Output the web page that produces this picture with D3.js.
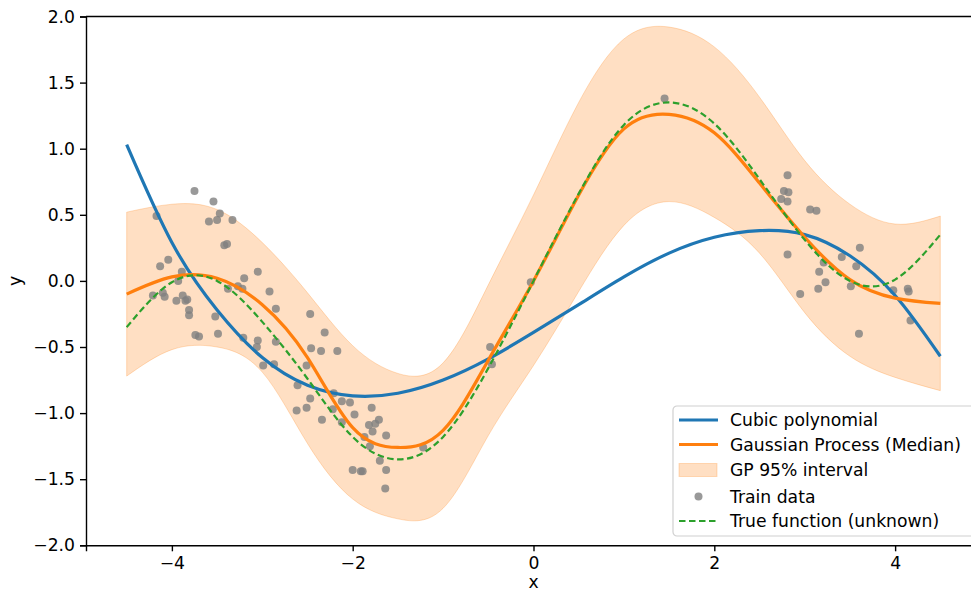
<!DOCTYPE html>
<html>
<head>
<meta charset="utf-8">
<script src="https://cdn.jsdelivr.net/npm/d3@7"></script>
<style>
  body { margin: 0; background: #fff; }
  svg { display: block; font-family: "DejaVu Sans", sans-serif; }
</style>
</head>
<body>
<svg id="chart" width="971" height="594"></svg>
<script>
var gridX = [-4.5, -4, -3.5, -3, -2.5, -2, -1.5, -1, -0.5, 0, 0.5, 1, 1.5, 2, 2.5, 3, 3.5, 4, 4.5];

var cubicY  = [1.03, 0.29, -0.22, -0.58, -0.79, -0.87, -0.85, -0.75, -0.59, -0.39, -0.18, 0.03, 0.21, 0.33, 0.38, 0.35, 0.19, -0.11, -0.57];
var medianY = [-0.10, 0.03, 0.02, -0.18, -0.58, -1.11, -1.26, -1.13, -0.60, 0.0, 0.65, 1.15, 1.26, 1.12, 0.74, 0.33, 0.01, -0.13, -0.17];
var upperY  = [0.52, 0.58, 0.54, 0.29, -0.09, -0.49, -0.70, -0.62, -0.03, 0.65, 1.35, 1.83, 1.92, 1.77, 1.39, 0.91, 0.58, 0.43, 0.49];
var lowerY  = [-0.72, -0.52, -0.50, -0.69, -1.23, -1.65, -1.80, -1.72, -1.17, -0.64, -0.08, 0.42, 0.60, 0.48, 0.21, -0.24, -0.57, -0.73, -0.83];
var trueY   = [-0.35, -0.01, 0.0, -0.31, -0.74, -1.18, -1.35, -1.18, -0.66, 0.0, 0.66, 1.18, 1.35, 1.19, 0.77, 0.31, 0.0, 0.01, 0.35];

// training points
var trainX = [-3.75, -3.54, -3.47, -3.59, -3.50, -3.33, -4.17, -3.42, -3.39, -4.13, -4.04, -3.89, -3.93, -4.21, -4.10, -4.08,
  -3.95, -3.88, -3.85, -3.83, -3.81, -3.81, -3.38, -3.27, -3.22, -3.20, -3.05, -2.92, -2.85, -3.52, -3.74, -3.70, -3.49,
  -3.21, -3.05, -3.06, -2.85, -2.47, -2.31, -2.46, -2.35, -2.17, -2.99, -2.87, -2.51, -2.61, -2.47, -2.21, -2.12, -2.03,
  -2.62, -2.51, -2.22, -1.98, -1.79, -2.34, -2.12, -1.82, -1.75, -1.71, -1.78, -1.87, -1.63, -1.81, -1.70, -1.22, -2.00,
  -1.91, -1.89, -1.63, -1.64, -0.03, -0.48, -0.46, 1.45, 2.81, 2.77, 2.82, 2.74, 2.81, 3.06, 3.13, 2.81, 3.61, 3.41, 3.57,
  3.21, 3.16, 3.23, 2.95, 3.15, 3.51, 3.98, 4.14, 4.15, 4.17, 3.60];
var trainY = [0.68, 0.60, 0.51, 0.45, 0.46, 0.46, 0.49, 0.27, 0.28, 0.11, 0.16, 0.07, 0.00, -0.11, -0.09, -0.12,
  -0.15, -0.11, -0.15, -0.14, -0.22, -0.26, -0.06, -0.04, -0.06, 0.02, 0.07, -0.08, -0.21, -0.27, -0.41, -0.42, -0.40,
  -0.43, -0.45, -0.50, -0.46, -0.25, -0.39, -0.51, -0.53, -0.53, -0.64, -0.63, -0.64, -0.79, -0.89, -0.85, -0.91, -0.92,
  -0.98, -0.96, -0.97, -1.01, -0.96, -1.05, -1.07, -1.09, -1.08, -1.05, -1.14, -1.18, -1.17, -1.25, -1.36, -1.26, -1.43,
  -1.44, -1.44, -1.43, -1.57, -0.01, -0.50, -0.63, 1.38, 0.80, 0.68, 0.67, 0.62, 0.60, 0.54, 0.53, 0.20, 0.25, 0.18, 0.11,
  0.14, 0.07, -0.01, -0.10, -0.06, -0.04, -0.07, -0.06, -0.08, -0.30, -0.40];

var xTicks = [-4, -2, 0, 2, 4];
var yTicks = [-2.0, -1.5, -1.0, -0.5, 0.0, 0.5, 1.0, 1.5, 2.0];

var legendLabels = ["Cubic polynomial", "Gaussian Process (Median)", "GP 95% interval", "Train data", "True function (unknown)"];

var blue = "#1f77b4", orange = "#ff7f0e", green = "#2ca02c";
var fontSize = 17.2;

var svg = d3.select("#chart");

var margin = {left: 86, top: 16.5, right: 981, bottom: 545.3};

var x = d3.scaleLinear().domain([-4.95, 4.95]).range([margin.left, margin.right]);
var y = d3.scaleLinear().domain([-2, 2]).range([margin.bottom, margin.top]);

var idx = d3.range(gridX.length);

// GP interval band
var band = d3.area()
    .x(function(i) { return x(gridX[i]); })
    .y0(function(i) { return y(lowerY[i]); })
    .y1(function(i) { return y(upperY[i]); })
    .curve(d3.curveNatural);

svg.append("path")
    .attr("d", band(idx))
    .attr("fill", orange)
    .attr("fill-opacity", 0.25)
    .attr("stroke", orange)
    .attr("stroke-opacity", 0.25)
    .attr("stroke-width", 1);

// train data
svg.append("g").selectAll("circle")
    .data(d3.range(trainX.length))
    .enter().append("circle")
    .attr("cx", function(i) { return x(trainX[i]); })
    .attr("cy", function(i) { return y(trainY[i]); })
    .attr("r", 4)
    .attr("fill", "#808080")
    .attr("fill-opacity", 0.8);

function curveOf(vals) {
    return d3.line()
        .x(function(i) { return x(gridX[i]); })
        .y(function(i) { return y(vals[i]); })
        .curve(d3.curveNatural)(idx);
}

svg.append("path").attr("d", curveOf(cubicY))
    .attr("fill", "none").attr("stroke", blue).attr("stroke-width", 3.2);
svg.append("path").attr("d", curveOf(medianY))
    .attr("fill", "none").attr("stroke", orange).attr("stroke-width", 3.2);
svg.append("path").attr("d", curveOf(trueY))
    .attr("fill", "none").attr("stroke", green).attr("stroke-width", 2.2)
    .attr("stroke-dasharray", "6.5,3.5");

// axes
var fmtY = function(d) { return d3.format(".1f")(d).replace("-", "\u2212"); };
var fmtX = function(d) { return String(d).replace("-", "\u2212"); };

var xAxis = svg.append("g")
    .attr("transform", "translate(0," + margin.bottom + ")")
    .call(d3.axisBottom(x).tickValues(xTicks).tickFormat(fmtX).tickSize(6).tickPadding(5));
var yAxis = svg.append("g")
    .attr("transform", "translate(" + margin.left + ",0)")
    .call(d3.axisLeft(y).tickValues(yTicks).tickFormat(fmtY).tickSize(6).tickPadding(5));

[xAxis, yAxis].forEach(function(g) {
    g.select(".domain").attr("stroke", "#000").attr("stroke-width", 1.4);
    g.selectAll(".tick line").attr("stroke", "#000").attr("stroke-width", 1.4);
    g.selectAll(".tick text")
        .attr("fill", "#000")
        .style("font-family", "DejaVu Sans")
        .style("font-size", fontSize + "px");
});

// top spine (right spine is outside the picture)
svg.append("line")
    .attr("x1", margin.left).attr("x2", margin.right)
    .attr("y1", margin.top).attr("y2", margin.top)
    .attr("stroke", "#000").attr("stroke-width", 1.4);

svg.append("text")
    .attr("x", x(0)).attr("y", 594)
    .attr("text-anchor", "middle")
    .style("font-size", fontSize + "px")
    .attr("dy", "-0.35em")
    .text("x");

svg.append("text")
    .attr("transform", "translate(21," + y(0) + ") rotate(-90)")
    .attr("text-anchor", "middle")
    .style("font-size", fontSize + "px")
    .text("y");

// legend
var lg = svg.append("g").attr("transform", "translate(673,406)");
lg.append("rect")
    .attr("width", 302).attr("height", 130)
    .attr("rx", 4)
    .attr("fill", "#fff").attr("fill-opacity", 0.8)
    .attr("stroke", "#d0d0d0").attr("stroke-width", 1.2);

var rowY = [14, 38.5, 64, 90.5, 115];

var rows = lg.selectAll("g.row")
    .data(legendLabels)
    .enter().append("g")
    .attr("class", "row")
    .attr("transform", function(d, i) { return "translate(0," + rowY[i] + ")"; });

rows.append("text")
    .attr("x", 57)
    .attr("dy", "0.36em")
    .style("font-size", fontSize + "px")
    .text(function(d) { return d; });

rows.each(function(d, i) {
    var r = d3.select(this);
    if (i == 0 || i == 1) {
        r.append("line").attr("x1", 6).attr("x2", 45)
            .attr("stroke", i == 0 ? blue : orange).attr("stroke-width", 3.2);
    } else if (i == 2) {
        r.append("rect").attr("x", 6).attr("y", -6.5).attr("width", 38).attr("height", 13)
            .attr("fill", orange).attr("fill-opacity", 0.25)
            .attr("stroke", orange).attr("stroke-opacity", 0.25);
    } else if (i == 3) {
        r.append("circle").attr("cx", 25.5).attr("r", 4)
            .attr("fill", "#808080").attr("fill-opacity", 0.8);
    } else {
        r.append("line").attr("x1", 6).attr("x2", 45)
            .attr("stroke", green).attr("stroke-width", 2.2)
            .attr("stroke-dasharray", "6.5,3.5");
    }
});
</script>
</body>
</html>
